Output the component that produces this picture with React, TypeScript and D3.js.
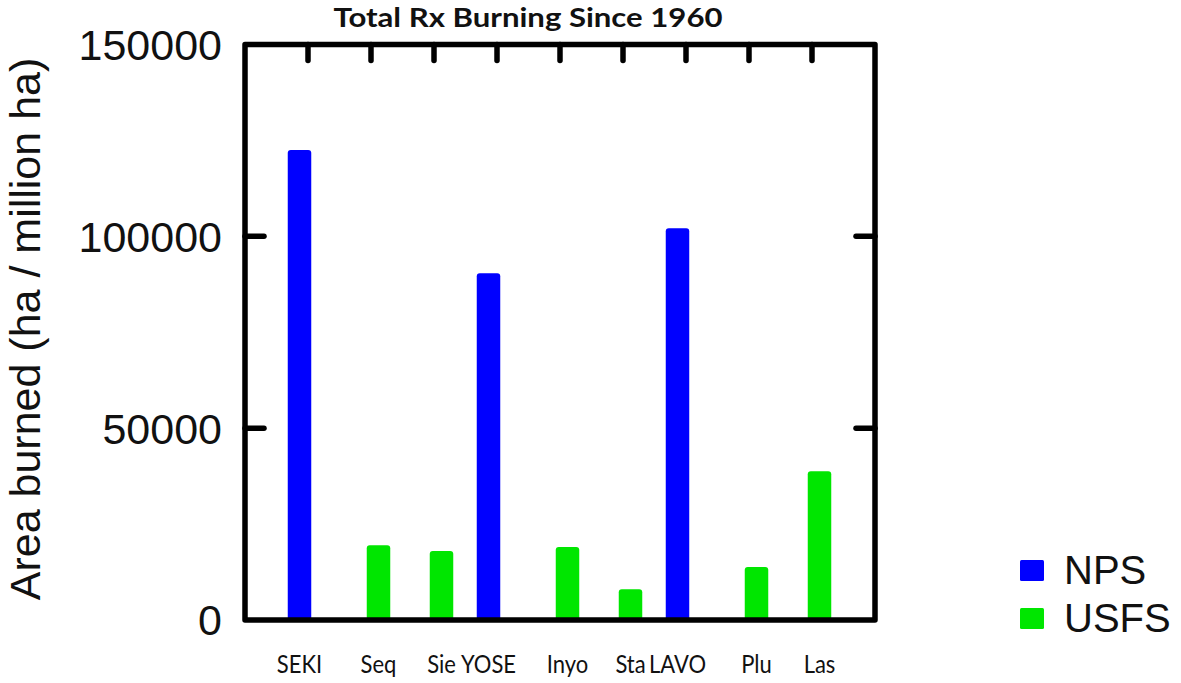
import React from "react";
import * as d3 from "d3";

const categories = ["SEKI", "Seq", "Sie", "YOSE", "Inyo", "Sta", "LAVO", "Plu", "Las"];
const npsValues = [122500, 0, 0, 90400, 0, 0, 102100, 0, 0];
const usfsValues = [0, 19500, 18000, 0, 19000, 8000, 0, 13800, 38800];
const seriesNames = ["NPS", "USFS"];
const seriesColors = ["#0000ff", "#00e600"];
const yTicks = [0, 50000, 100000, 150000];
const title = "Total Rx Burning Since 1960";
const yTitle = "Area burned (ha / million ha)";

const W = 1181;
const H = 683;
const left = 245;
const right = 875;
const top = 44.5;
const bottom = 620;

export default function App() {
  const x = d3.scaleBand<string>().domain(categories).range([left, right]).paddingOuter(0.5).paddingInner(0);
  const xSub = d3.scalePoint<string>().domain(seriesNames).range([-8.5, 7.5]);
  const y = d3.scaleLinear().domain([0, 150000]).range([bottom, top]);
  const barW = 23.5;
  const seriesData = [npsValues, usfsValues];
  const center = (c: string) => (x(c) as number) + x.bandwidth() / 2;

  const bars: React.ReactNode[] = [];
  seriesData.forEach((vals, si) => {
    vals.forEach((v, i) => {
      if (v <= 0) return;
      const cx = center(categories[i]) + (xSub(seriesNames[si]) as number);
      const yt = y(v);
      bars.push(
        <rect key={`${si}-${i}`} x={cx - barW / 2} y={yt} width={barW} height={y(0) - yt + 1} rx={3} fill={seriesColors[si]} />
      );
    });
  });

  const sans = "Liberation Sans, Arial, sans-serif";
  const cal = "Lato, Open Sans, sans-serif";

  return (
    <svg width={W} height={H} style={{ position: "absolute", left: 0, top: 0, background: "#fff" }} xmlns="http://www.w3.org/2000/svg">
      <rect x={0} y={0} width={W} height={H} fill="#fff" />
      <text x={528} y={27} textAnchor="middle" fontFamily={cal} fontWeight="bold" fontSize={27} textLength={389} lengthAdjust="spacingAndGlyphs" fill="#111">{title}</text>
      {bars}
      <rect x={left} y={top} width={right - left} height={bottom - top} fill="none" stroke="#000" strokeWidth={5.5} strokeLinejoin="round" />
      {categories.map((c) => (
        <line key={"t" + c} x1={center(c)} x2={center(c)} y1={top} y2={top + 16} stroke="#000" strokeWidth={5.5} strokeLinecap="round" />
      ))}
      {yTicks.filter((t) => t > 0 && t < 150000).map((t) => (
        <g key={"y" + t}>
          <line x1={left} x2={left + 19} y1={y(t)} y2={y(t)} stroke="#000" strokeWidth={5.5} strokeLinecap="round" />
          <line x1={right - 19} x2={right} y1={y(t)} y2={y(t)} stroke="#000" strokeWidth={5.5} strokeLinecap="round" />
        </g>
      ))}
      {yTicks.map((t) => (
        <text key={"yl" + t} x={222} y={y(t)} dy="0.36em" textAnchor="end" fontFamily={sans} fontSize={43} fill="#111">{t}</text>
      ))}
      <text transform={`translate(40, 329) rotate(-90)`} textAnchor="middle" fontFamily={sans} fontSize={43} fill="#111">{yTitle}</text>
      {categories.map((c, i) => {
        const si = npsValues[i] > 0 ? 0 : 1;
        const cx = center(c) + (xSub(seriesNames[si]) as number);
        return (
          <text key={"xl" + c} transform={`translate(${cx}, 673) scale(0.88, 1)`} textAnchor="middle" fontFamily={cal} fontSize={25} fill="#111">{c}</text>
        );
      })}
      {seriesNames.map((s, i) => (
        <g key={"lg" + s}>
          <rect x={1020} y={560 + i * 48} width={24} height={21} rx={1.5} fill={seriesColors[i]} />
          <text x={1064} y={584 + i * 48} fontFamily={sans} fontSize={40} fill="#111">{s}</text>
        </g>
      ))}
    </svg>
  );
}
